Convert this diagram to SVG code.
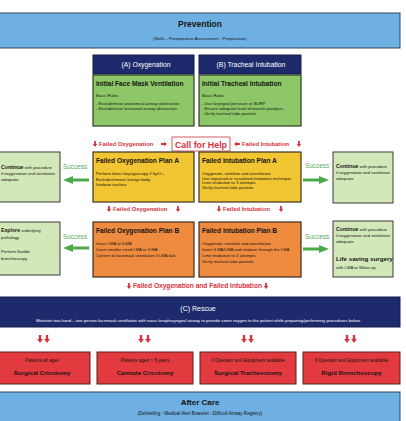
<svg xmlns="http://www.w3.org/2000/svg" width="406" height="421" viewBox="0 0 406 421">
<defs>
<style>
text{font-family:"Liberation Sans Narrow","Liberation Sans",Arial,sans-serif;fill:#151515}
.b{font-weight:bold}
.blue{fill:#6db0e1;stroke:#34465f;stroke-width:1}
.navy{fill:#1d2a6c;stroke:#141d4a;stroke-width:1}
.grn{fill:#8dc767;stroke:#2f3a26;stroke-width:1.2}
.lg{fill:#d3e8b8;stroke:#3a3a3a;stroke-width:1}
.yel{fill:#f2c532;stroke:#3a3320;stroke-width:1.2}
.org{fill:#ef8b3f;stroke:#3a2a20;stroke-width:1.2}
.red{fill:#e23a3f;stroke:#5a1d1f;stroke-width:1}
.wt{fill:#ffffff}
.rt{fill:#d8323c;font-weight:bold}
.gt{fill:#5aaa5a}
.ra{fill:#d8323c}
.ga{fill:#4caa4c}
.t4{font-size:4.2px}
</style>
<path id="da" d="M-0.9,-3 H0.9 V0 H2.2 L0,3 L-2.2,0 H-0.9 Z"/>
<path id="ra" d="M-3,-0.9 V0.9 H0 V2.2 L3,0 L0,-2.2 V-0.9 Z"/>
<path id="gr" d="M0,-1.6 H16 V-4 L26,0 L16,4 V1.6 H0 Z"/>
</defs>
<rect width="406" height="421" fill="#ffffff"/>

<g id="prevention">
<rect class="blue" x="-2" y="13" width="402" height="35"/>
<text class="b" x="200" y="27" font-size="8.5" text-anchor="middle">Prevention</text>
<text x="200" y="40" font-size="4.4" text-anchor="middle">(Skills - Preoperative Assessment - Preparation)</text>
</g>

<g id="hdrA">
<rect class="navy" x="93" y="55" width="101" height="19"/>
<text class="wt" x="146" y="67" font-size="6.8" text-anchor="middle">(A) Oxygenation</text>
</g>
<g id="hdrB">
<rect class="navy" x="199" y="55" width="102" height="19"/>
<text class="wt" x="251" y="67" font-size="6.8" text-anchor="middle">(B) Tracheal Intubation</text>
</g>

<g id="initFMV">
<rect class="grn" x="93" y="75" width="101" height="51"/>
<text class="b" x="96" y="86" font-size="6.6">Initial Face Mask Ventilation</text>
<text class="t4" x="96" y="97">Basic Rules</text>
<text class="t4" x="96" y="105">- Exclude/treat anatomical airway obstruction</text>
<text class="t4" x="96" y="110">- Exclude/treat functional airway obstruction</text>
</g>
<g id="initTI">
<rect class="grn" x="199" y="75" width="102" height="51"/>
<text class="b" x="202" y="86" font-size="6.6">Initial Tracheal Intubation</text>
<text class="t4" x="202" y="97">Basic Rules</text>
<text class="t4" x="202" y="105">- Use laryngeal pressure or BURP</text>
<text class="t4" x="202" y="110">- Ensure adequate level of muscle paralysis</text>
<text class="t4" x="202" y="115">- Verify tracheal tube position</text>
</g>

<g id="callHelp">
<rect x="172" y="137" width="58" height="14" fill="#ffffff" stroke="#c0393f" stroke-width="0.8"/>
<text x="175" y="148" font-size="9.2" font-weight="bold" textLength="52" lengthAdjust="spacingAndGlyphs" style="fill:#d8323c">Call for Help</text>
</g>

<g id="planA_O">
<rect class="yel" x="93" y="152" width="101" height="50"/>
<text class="b" x="96" y="163" font-size="6.6">Failed Oxygenation Plan A</text>
<text class="t4" x="96" y="175">Perform direct laryngoscopy if SpO₂↓</text>
<text class="t4" x="96" y="180.5">Exclude/remove foreign body</text>
<text class="t4" x="96" y="186">Intubate trachea</text>
</g>
<g id="planA_I">
<rect class="yel" x="199" y="152" width="102" height="50"/>
<text class="b" x="202" y="163" font-size="6.6">Failed Intubation Plan A</text>
<text class="t4" x="202" y="175">Oxygenate, ventilate and anesthetize</text>
<text class="t4" x="202" y="179.5">Use improved or visualized intubation technique</text>
<text class="t4" x="202" y="184">Limit intubation to 3 attempts</text>
<text class="t4" x="202" y="188.5">Verify tracheal tube position</text>
</g>

<g id="planB_O">
<rect class="org" x="93" y="222" width="101" height="55"/>
<text class="b" x="96" y="233" font-size="6.6">Failed Oxygenation Plan B</text>
<text class="t4" x="96" y="245">Insert LMA or ILMA</text>
<text class="t4" x="96" y="251">Insert smaller sized LMA or ILMA</text>
<text class="t4" x="96" y="257">Convert to facemask ventilation if LMA fails</text>
</g>
<g id="planB_I">
<rect class="org" x="199" y="222" width="102" height="55"/>
<text class="b" x="202" y="233" font-size="6.6">Failed Intubation Plan B</text>
<text class="t4" x="202" y="245">Oxygenate, ventilate and anesthetize</text>
<text class="t4" x="202" y="251">Insert ILMA/LMA and intubate through the LMA</text>
<text class="t4" x="202" y="257">Limit intubation to 2 attempts</text>
<text class="t4" x="202" y="263">Verify tracheal tube position</text>
</g>

<g id="leftContinue">
<rect class="lg" x="-3" y="152" width="63" height="50"/>
<text class="t4" x="1" y="169"><tspan class="b" font-size="5.2">Continue</tspan> with procedure</text>
<text class="t4" x="1" y="175">if oxygenation and ventilation</text>
<text class="t4" x="1" y="181">adequate</text>
</g>
<g id="leftExplore">
<rect class="lg" x="-3" y="222" width="63" height="53"/>
<text class="t4" x="1" y="232"><tspan class="b" font-size="5.2">Explore</tspan> underlying</text>
<text class="t4" x="1" y="238.5">pathology</text>
<text class="t4" x="1" y="252.5">Perform flexible</text>
<text class="t4" x="1" y="260">bronchoscopy</text>
</g>

<g id="rightContinue">
<rect class="lg" x="333" y="152" width="60" height="51"/>
<text class="t4" x="336" y="168"><tspan class="b" font-size="5.2">Continue</tspan> with procedure</text>
<text class="t4" x="336" y="174">if oxygenation and ventilation</text>
<text class="t4" x="336" y="180">adequate</text>
</g>
<g id="rightLife">
<rect class="lg" x="333" y="221" width="60" height="56"/>
<text class="t4" x="336" y="231"><tspan class="b" font-size="5.2">Continue</tspan> with procedure</text>
<text class="t4" x="336" y="237">if oxygenation and ventilation</text>
<text class="t4" x="336" y="243">adequate</text>
<text class="b" x="336" y="261" font-size="6.2">Life saving surgery</text>
<text class="t4" x="336" y="268.5">with LMA or Wake-up</text>
</g>

<g id="rescue">
<rect class="navy" x="-2" y="297" width="402" height="30"/>
<text class="wt" x="198" y="311" font-size="7" text-anchor="middle">(C) Rescue</text>
<text class="wt" x="198" y="322" font-size="4.3" text-anchor="middle">Maintain two-hand – two person facemask ventilation with naso-/oropharyngeal airway to provide some oxygen to the patient while preparing/performing procedures below</text>
</g>

<g id="cricotomy">
<rect class="red" x="-2" y="352" width="92" height="32"/>
<text x="42" y="362" font-size="4.6" text-anchor="middle">Patients all ages</text>
<text class="b" x="42" y="375" font-size="6.2" text-anchor="middle">Surgical Cricotomy</text>
</g>
<g id="cannula">
<rect class="red" x="97" y="352" width="96" height="32"/>
<text x="145" y="362" font-size="4.6" text-anchor="middle">Patients aged &gt; 5 years</text>
<text class="b" x="145" y="375" font-size="6.2" text-anchor="middle">Cannula Cricotomy</text>
</g>
<g id="tracheostomy">
<rect class="red" x="200" y="352" width="96" height="32"/>
<text x="248" y="362" font-size="4.6" text-anchor="middle">If Operator and Equipment available</text>
<text class="b" x="248" y="375" font-size="6.2" text-anchor="middle">Surgical Tracheostomy</text>
</g>
<g id="bronchoscopy">
<rect class="red" x="303" y="352" width="97" height="32"/>
<text x="351.5" y="362" font-size="4.6" text-anchor="middle">If Operator and Equipment available</text>
<text class="b" x="351.5" y="375" font-size="6.2" text-anchor="middle">Rigid Bronchoscopy</text>
</g>

<g id="aftercare">
<rect class="blue" x="-2" y="392" width="402" height="34"/>
<text class="b" x="200" y="405" font-size="8" text-anchor="middle">After Care</text>
<text x="200" y="415" font-size="4.6" text-anchor="middle">(Debriefing - Medical Alert Bracelet - Difficult Airway Registry)</text>
</g>

<g id="connectors">
<use href="#da" class="ra" x="95" y="144"/>
<text class="rt" x="99" y="146" font-size="5.9">Failed Oxygenation</text>
<use href="#ra" class="ra" x="164" y="144"/>
<use href="#ra" class="ra" x="237" y="144" transform="rotate(180 237 144)"/>
<text class="rt" x="242" y="146" font-size="5.9">Failed Intubation</text>
<use href="#da" class="ra" x="299" y="144"/>
<use href="#da" class="ra" x="109" y="209"/>
<text class="rt" x="113" y="211" font-size="5.9">Failed Oxygenation</text>
<use href="#da" class="ra" x="178" y="209"/>
<use href="#da" class="ra" x="219" y="209"/>
<text class="rt" x="223" y="211" font-size="5.9">Failed Intubation</text>
<use href="#da" class="ra" x="281" y="209"/>
<use href="#da" class="ra" x="129" y="286"/>
<text class="rt" x="133" y="288" font-size="6.6">Failed Oxygenation and Failed Intubation</text>
<use href="#da" class="ra" x="266" y="286"/>
<text class="gt" x="75" y="169" font-size="6.4" text-anchor="middle">Success</text>
<use href="#gr" class="ga" transform="translate(89 180) scale(-1 1)"/>
<text class="gt" x="75" y="239" font-size="6.4" text-anchor="middle">Success</text>
<use href="#gr" class="ga" transform="translate(89 248) scale(-1 1)"/>
<text class="gt" x="317" y="168" font-size="6.4" text-anchor="middle">Success</text>
<use href="#gr" class="ga" transform="translate(303 180)"/>
<text class="gt" x="317" y="239" font-size="6.4" text-anchor="middle">Success</text>
<use href="#gr" class="ga" transform="translate(303 249)"/>
<g transform="translate(0 339)">
<use href="#da" class="ra" transform="translate(40 0) scale(1.3)"/><use href="#da" class="ra" transform="translate(47 0) scale(1.3)"/>
<use href="#da" class="ra" transform="translate(141 0) scale(1.3)"/><use href="#da" class="ra" transform="translate(148 0) scale(1.3)"/>
<use href="#da" class="ra" transform="translate(244 0) scale(1.3)"/><use href="#da" class="ra" transform="translate(251 0) scale(1.3)"/>
<use href="#da" class="ra" transform="translate(347 0) scale(1.3)"/><use href="#da" class="ra" transform="translate(354 0) scale(1.3)"/>
</g>
</g>
</svg>
